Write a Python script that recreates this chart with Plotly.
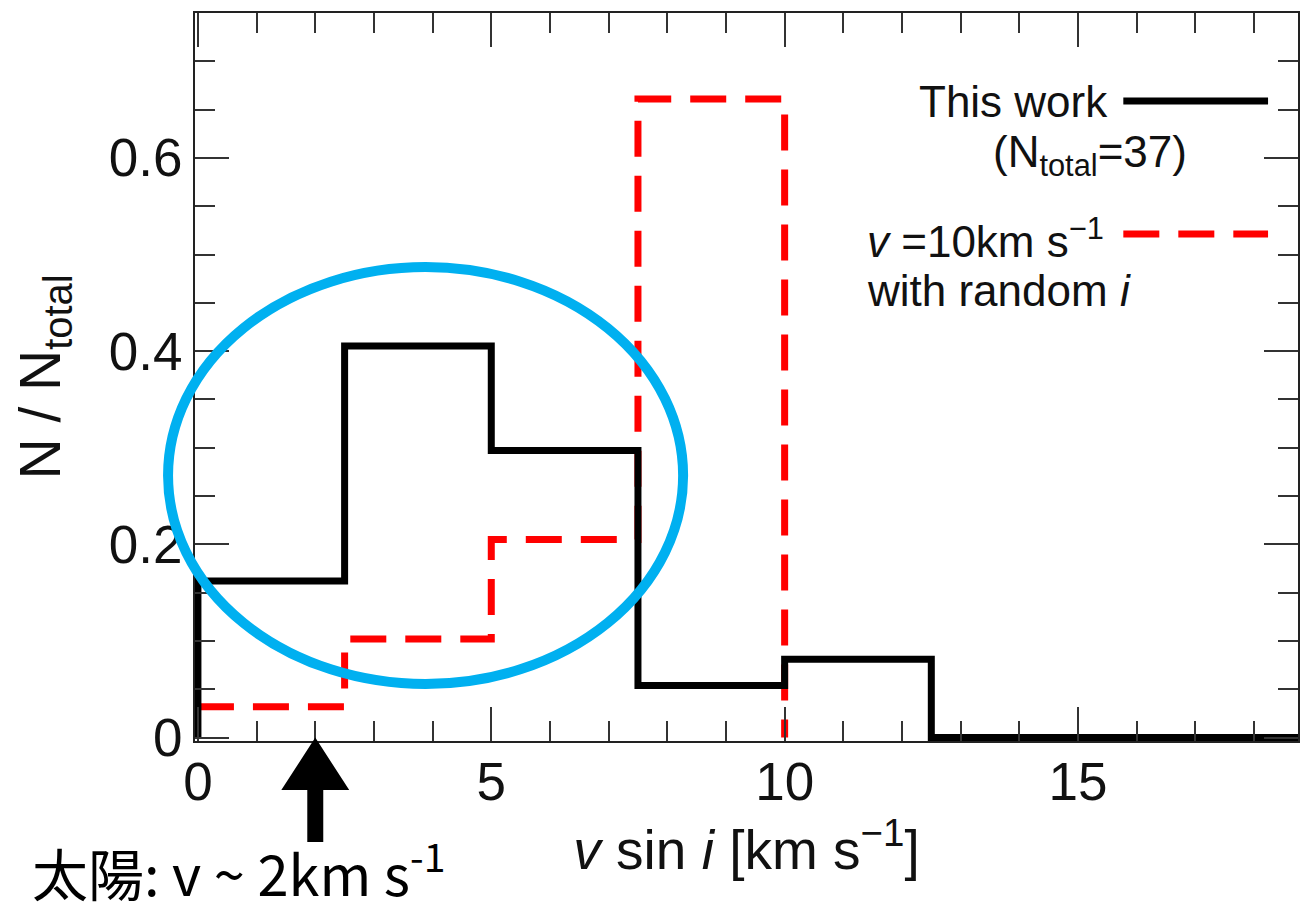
import plotly.graph_objects as go

# ---- data ----
bin_edges = [0, 2.5, 5, 7.5, 10, 12.5]
this_work_counts = [6, 15, 11, 2, 3]
n_total = 37
model_edges = [0, 2.5, 5, 7.5, 10]
model_fraction = [0.032, 0.102, 0.205, 0.661]
x_max = 18.75
y_max = 0.75
sun_v = 2
x_tickvals = [0, 5, 10, 15]
x_ticktext = ["0", "5", "10", "15"]
y_tickvals = [0, 0.2, 0.4, 0.6]
y_ticktext = ["0", "0.2", "0.4", "0.6"]

frac = [c / n_total for c in this_work_counts]
bx = [0] + bin_edges + [x_max]
by = [0] + frac + [0, 0]
rx = model_edges
ry = model_fraction + [0]

FONT = "Liberation Sans, Arial, sans-serif"
L, R, T, B = 195, 0, 13, 163
W, H = 1300, 904
x_lo = -0.05
y_lo = -0.0035

fig = go.Figure()
fig.add_trace(go.Scatter(x=rx, y=ry, mode="lines", line=dict(color="#ff0000", width=7, dash="36px,19px", shape="hv"),
                         showlegend=False, hoverinfo="skip"))
fig.add_trace(go.Scatter(x=bx, y=by, mode="lines", line=dict(color="#000000", width=7, shape="hv"),
                         showlegend=False, hoverinfo="skip"))

pw = W - L - R
ph = H - T - B

def px(xv):
    return (xv - x_lo) / (x_max - x_lo)

def py(yv):
    return (yv - y_lo) / (y_max - y_lo)

def pxpix(p):  # pixel -> paper x
    return (p - L) / pw

def pypix(p):  # pixel -> paper y
    return (H - B - p) / ph

axis_common = dict(showline=True, linecolor="#222", linewidth=2, mirror="ticks", ticks="inside",
                   tickcolor="#333", tickwidth=2, showgrid=False, zeroline=False,
                   tickfont=dict(family=FONT, size=53, color="#111"))

fig.update_layout(
    width=W, height=H, margin=dict(l=L, r=R, t=T, b=B),
    plot_bgcolor="white", paper_bgcolor="white",
    xaxis=dict(range=[x_lo, x_max], tickmode="array", tickvals=x_tickvals, ticktext=x_ticktext, ticklen=34,
               ticklabelstandoff=-7,
               minor=dict(tickmode="linear", tick0=0, dtick=1, ticklen=20, tickwidth=2, tickcolor="#333", ticks="inside"),
               title=dict(text="<i>v</i> sin <i>i</i> [km s<sup>−1</sup>]", font=dict(family=FONT, size=55, color="#111"), standoff=12),
               **axis_common),
    yaxis=dict(range=[y_lo, y_max], tickmode="array", tickvals=y_tickvals, ticktext=y_ticktext, ticklen=34,
               minor=dict(tickmode="linear", tick0=0, dtick=0.05, ticklen=20, tickwidth=2, tickcolor="#333", ticks="inside"),
               title=dict(text="N / N<sub>total</sub>", font=dict(family=FONT, size=57, color="#111"), standoff=30),
               **axis_common),
)

# legend built from annotations + line samples
leg_x0, leg_x1 = pxpix(1125), pxpix(1270)
fig.add_shape(type="line", xref="paper", yref="paper", x0=leg_x0, x1=leg_x1, y0=pypix(101), y1=pypix(101),
              line=dict(color="black", width=7))
fig.add_shape(type="line", xref="paper", yref="paper", x0=leg_x0, x1=leg_x1, y0=pypix(234), y1=pypix(234),
              line=dict(color="#ff0000", width=7, dash="36px,19px"))
lf = dict(family=FONT, size=44, color="#111")
fig.add_annotation(xref="paper", yref="paper", x=pxpix(1112), y=pypix(101), text="This work", showarrow=False,
                   xanchor="right", yanchor="middle", font=lf)
fig.add_annotation(xref="paper", yref="paper", x=pxpix(1092), y=pypix(155), text="(N<sub>total</sub>=37)", showarrow=False,
                   xanchor="center", yanchor="middle", font=lf)
fig.add_annotation(xref="paper", yref="paper", x=pxpix(866), y=pypix(238), text="<i>v</i> =10km s<sup>−1</sup>", showarrow=False,
                   xanchor="left", yanchor="middle", font=lf)
fig.add_annotation(xref="paper", yref="paper", x=pxpix(866), y=pypix(290), text="with random <i>i</i>", showarrow=False,
                   xanchor="left", yanchor="middle", font=lf)

# blue ellipse highlight
fig.add_shape(type="circle", xref="paper", yref="paper", x0=pxpix(168), x1=pxpix(684), y0=pypix(684), y1=pypix(267),
              line=dict(color="#00B0F0", width=10), layer="above")

# arrow marking the Sun
ax = px(sun_v)
hw = 34 / pw
sw = 8 / pw
tip = py(0)
base = pypix(790)
bot = pypix(842)
path = (f"M {ax} {tip} L {ax - hw} {base} L {ax - sw} {base} L {ax - sw} {bot} "
        f"L {ax + sw} {bot} L {ax + sw} {base} L {ax + hw} {base} Z")
fig.add_shape(type="path", xref="paper", yref="paper", path=path, fillcolor="black", line=dict(width=0))
fig.add_annotation(xref="paper", yref="paper", x=pxpix(30), y=pypix(869), text="太陽: v ~ 2km s<sup>-1</sup>",
                   showarrow=False, xanchor="left", yanchor="middle",
                   font=dict(family="Noto Sans CJK JP", size=56, color="black"))

fig.write_html("out.html")
